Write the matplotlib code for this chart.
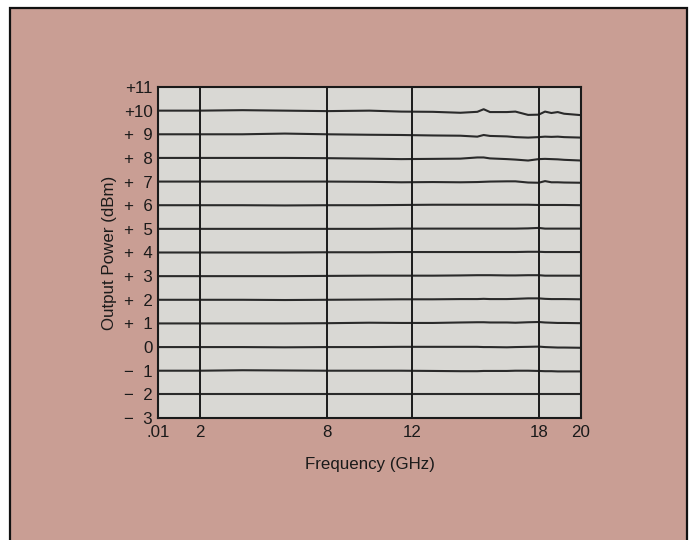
import matplotlib
matplotlib.use("Agg")
import matplotlib.pyplot as plt
from matplotlib.patches import Rectangle

plt.rcParams['font.family'] = ['Liberation Sans', 'DejaVu Sans']

# Sweep frequencies (GHz)
freq = [0.01, 2, 4, 6, 8, 10, 11.5, 13, 14.3, 15.1, 15.4, 15.7, 16.5,
        16.9, 17.5, 18.0, 18.3, 18.6, 18.9, 19.2, 20]

# Nominal power setting of each trace (dBm)
levels = [10, 9, 8, 7, 6, 5, 4, 3, 2, 1, 0, -1, -2]

# Measured deviation from nominal for each trace (dB)
dev_p10 = [0.00, 0.00, 0.02, 0.00, -0.02, 0.00, -0.04, -0.05, -0.09, -0.05, 0.06, -0.06,
           -0.06, -0.04, -0.18, -0.17, -0.04, -0.10, -0.06, -0.13, -0.19]
dev_p9 = [0.00, 0.00, 0.00, 0.03, 0.00, -0.02, -0.03, -0.05, -0.06, -0.10, -0.03, -0.07,
          -0.09, -0.12, -0.14, -0.12, -0.10, -0.11, -0.10, -0.12, -0.14]
dev_p8 = [0.00, 0.00, 0.00, 0.00, -0.01, -0.03, -0.05, -0.04, -0.03, 0.02, 0.02, -0.02,
          -0.05, -0.07, -0.11, -0.05, -0.04, -0.05, -0.06, -0.08, -0.11]
dev_p7 = [0.00, 0.00, 0.00, 0.00, 0.00, -0.01, -0.03, -0.02, -0.03, -0.02, -0.01, 0.00,
          0.01, 0.01, -0.04, -0.05, 0.02, -0.03, -0.03, -0.04, -0.05]
dev_p6 = [0.00, 0.00, 0.00, -0.01, 0.00, 0.00, 0.01, 0.02, 0.02, 0.02, 0.02, 0.02,
          0.02, 0.02, 0.02, 0.01, 0.01, 0.01, 0.01, 0.01, 0.00]
dev_p5 = [0.00, 0.00, 0.00, 0.00, 0.00, 0.00, 0.01, 0.01, 0.01, 0.01, 0.01, 0.01,
          0.01, 0.01, 0.02, 0.04, 0.01, 0.01, 0.01, 0.01, 0.01]
dev_p4 = [0.00, 0.00, 0.00, 0.00, 0.01, 0.01, 0.02, 0.02, 0.02, 0.02, 0.02, 0.02,
          0.02, 0.02, 0.03, 0.03, 0.02, 0.02, 0.02, 0.02, 0.02]
dev_p3 = [0.00, 0.00, 0.00, 0.00, 0.01, 0.02, 0.02, 0.02, 0.03, 0.04, 0.04, 0.04,
          0.03, 0.03, 0.04, 0.04, 0.02, 0.02, 0.02, 0.02, 0.02]
dev_p2 = [0.00, 0.00, 0.00, -0.01, 0.00, 0.01, 0.02, 0.02, 0.03, 0.03, 0.04, 0.03,
          0.03, 0.04, 0.06, 0.06, 0.04, 0.03, 0.03, 0.03, 0.02]
dev_p1 = [0.00, 0.00, 0.00, 0.00, 0.01, 0.03, 0.02, 0.02, 0.04, 0.05, 0.05, 0.04,
          0.04, 0.03, 0.05, 0.06, 0.04, 0.03, 0.02, 0.02, 0.01]
dev_0 = [0.00, 0.00, 0.00, -0.01, 0.00, 0.00, 0.01, 0.01, 0.01, 0.01, 0.00, 0.00,
         -0.01, 0.00, 0.01, 0.02, 0.00, -0.01, -0.02, -0.02, -0.03]
dev_m1 = [0.00, 0.00, 0.02, 0.01, 0.00, 0.00, 0.00, -0.01, -0.02, -0.02, -0.01, -0.01,
          -0.01, 0.00, 0.00, -0.01, -0.02, -0.02, -0.03, -0.03, -0.03]
dev_m2 = [0.00, 0.00, 0.00, 0.00, 0.00, 0.00, 0.00, 0.00, 0.00, 0.00, 0.00, 0.00,
          0.00, 0.00, 0.00, 0.00, 0.00, 0.00, 0.00, 0.00, 0.00]

deviations = [dev_p10, dev_p9, dev_p8, dev_p7, dev_p6, dev_p5, dev_p4, dev_p3,
              dev_p2, dev_p1, dev_0, dev_m1, dev_m2]

# Axis ticks
x_ticks = [0.01, 2, 8, 12, 18, 20]
x_tick_labels = ['.01', '2', '8', '12', '18', '20']
x_grid = [2, 8, 12, 18]
y_ticks = list(range(-3, 12))
y_tick_labels = ['\u2212\u20073', '\u2212\u20072', '\u2212\u20071', '0',
                 '+\u20071', '+\u20072', '+\u20073', '+\u20074', '+\u20075',
                 '+\u20076', '+\u20077', '+\u20078', '+\u20079', '+10', '+11']

bg = '#c99e94'
plot_bg = '#d9d8d4'
ink = '#1a1a1a'
trace_ink = '#2a2a2a'
fs = 12.2

fig = plt.figure(figsize=(6.97, 5.40), dpi=100)
fig.patch.set_facecolor('white')

# Tinted panel with a dark border, kept behind the axes
panel = Rectangle((10 / 697, -0.01), (687 - 10) / 697, (540 - 8) / 540 + 0.01,
                  transform=fig.transFigure, facecolor=bg, edgecolor='#111111',
                  linewidth=1.6, zorder=-10)
fig.add_artist(panel)

ax = fig.add_axes([158 / 697, 1 - 418 / 540, 423 / 697, 331 / 540])
ax.set_zorder(1)
ax.set_facecolor(plot_bg)

for lvl, dev in zip(levels, deviations):
    ax.plot(freq, [lvl + d for d in dev], color=trace_ink, linewidth=1.5, zorder=3)

for xv in x_grid:
    ax.axvline(xv, color=ink, linewidth=1.4, zorder=4)

ax.set_xlim(0.01, 20)
ax.set_ylim(-3, 11)
ax.set_xticks(x_ticks)
ax.set_xticklabels(x_tick_labels)
ax.set_yticks(y_ticks)
ax.set_yticklabels(y_tick_labels)
ax.tick_params(axis='both', length=0, labelsize=fs, colors=ink)
ax.tick_params(axis='x', pad=5)
ax.tick_params(axis='y', pad=4)

for s in ax.spines.values():
    s.set_color(ink)
    s.set_linewidth(1.5)
    s.set_zorder(5)

ax.set_xlabel('Frequency (GHz)', fontsize=fs, color=ink, labelpad=12)
ax.set_ylabel('Output Power (dBm)', fontsize=fs, color=ink, labelpad=5)

fig.savefig('out.png', dpi=100, facecolor=fig.get_facecolor())
